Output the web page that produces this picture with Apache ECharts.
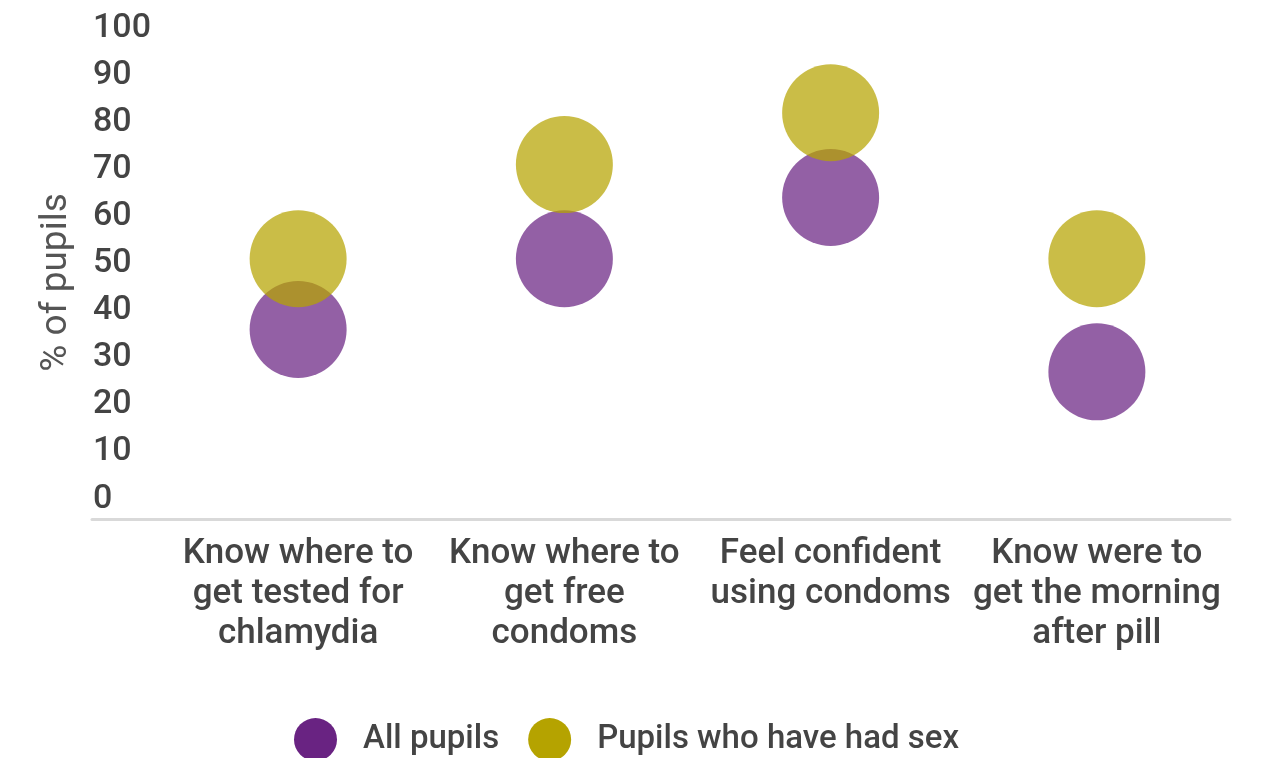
<!DOCTYPE html>
<html><head><meta charset="utf-8">
<script src="https://cdn.jsdelivr.net/npm/echarts@6/dist/echarts.min.js"></script>
<style>html,body{margin:0;padding:0;background:#fff}#c{width:1262px;height:758px}</style>
</head><body><div id="c"></div>
<script>
const categories = ["Know where to\nget tested for\nchlamydia", "Know where to\nget free\ncondoms", "Feel confident\nusing condoms", "Know were to\nget the morning\nafter pill"];
const allPupils = [36, 51, 64, 27];
const hadSex = [51, 71, 82, 51];
const seriesNames = ["All pupils", "Pupils who have had sex"];
const yTicks = [0, 100, 10];

const chart = echarts.init(document.getElementById('c'));
const font = 'Roboto';
chart.setOption({
  animation: false,
  grid: [
    {left: 165, right: 32, top: 28, bottom: 259},
    {left: 92, right: 32, top: 28, bottom: 259}
  ],
  legend: {
    bottom: -8, left: 289, itemWidth: 43, itemHeight: 43, itemGap: 29,
    icon: 'circle',
    itemStyle: {opacity: 1},
    textStyle: {fontFamily: font, fontSize: 33, color: '#444', fontWeight: 500, padding: [0,0,0,21]},
    data: seriesNames
  },
  xAxis: [
    {type: 'category', gridIndex: 0, data: categories, offset: 20,
     axisLine: {show: false}, axisTick: {show: false},
     axisLabel: {fontFamily: font, fontSize: 35, fontWeight: 500, color: '#444', lineHeight: 40, margin: 15, interval: 0}},
    {type: 'value', gridIndex: 1, offset: 20, min: 0, max: 1,
     axisLine: {show: true, onZero: false, lineStyle: {color: '#d9d9d9', width: 3}},
     axisTick: {show: false}, axisLabel: {show: false}, splitLine: {show: false}}
  ],
  yAxis: [
    {type: 'value', gridIndex: 0, min: yTicks[0], max: yTicks[1], interval: yTicks[2],
     name: '% of pupils', nameLocation: 'middle', nameGap: 90,
     nameTextStyle: {fontFamily: font, fontSize: 37, color: '#555', padding: [0, 38, 0, 0]},
     axisLine: {show: false}, axisTick: {show: false}, splitLine: {show: false},
     axisLabel: {align: 'left', margin: 72, fontFamily: font, fontSize: 34, fontWeight: 500, color: '#444', padding: [6, 0, 0, 0]}},
    {type: 'value', gridIndex: 1, show: false}
  ],
  series: [
    {name: seriesNames[0], type: 'scatter', xAxisIndex: 0, yAxisIndex: 0, data: allPupils,
     symbolSize: 97, itemStyle: {color: '#692382', opacity: 0.72}},
    {name: seriesNames[1], type: 'scatter', xAxisIndex: 0, yAxisIndex: 0, data: hadSex,
     symbolSize: 97, itemStyle: {color: '#b5a300', opacity: 0.72}}
  ]
});
</script></body></html>
